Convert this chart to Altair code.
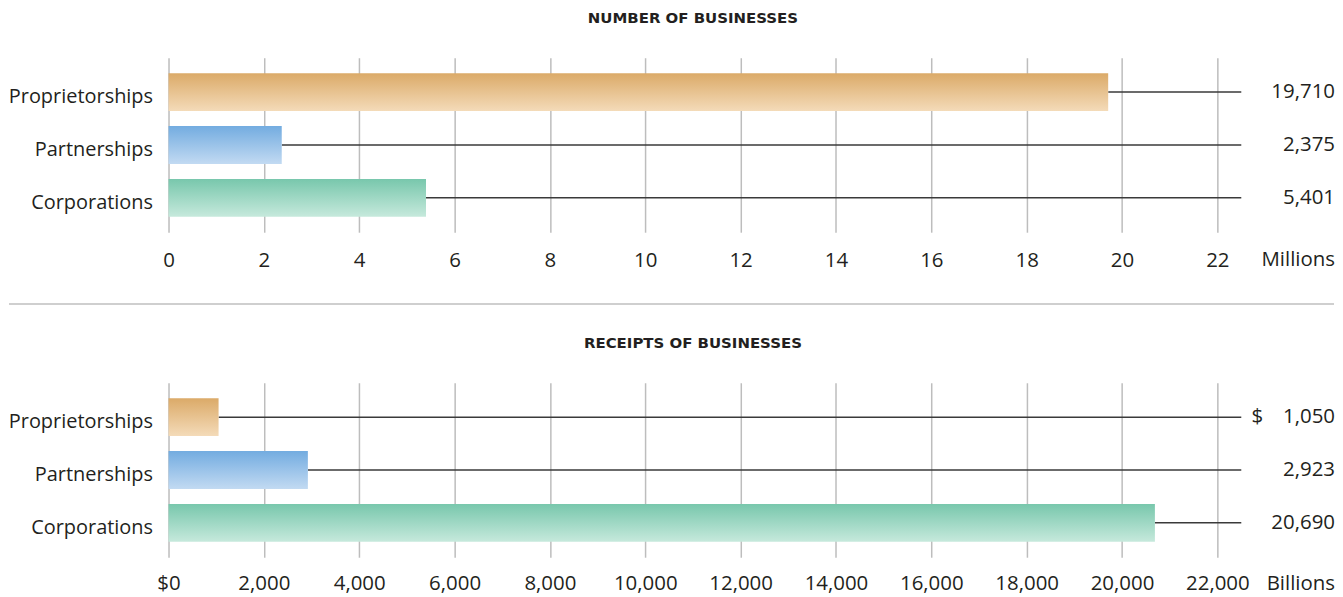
import altair as alt
import pandas as pd

FONT = "Open Sans"
TITLE_FONT = "DejaVu Sans"
TEXT_COLOR = "#231f20"

categories = ["Proprietorships", "Partnerships", "Corporations"]
number_millions = [19.710, 2.375, 5.401]
number_labels = ["19,710", "2,375", "5,401"]
receipts_billions = [1050, 2923, 20690]
receipts_labels = ["1,050", "2,923", "20,690"]
number_ticks = [0, 2, 4, 6, 8, 10, 12, 14, 16, 18, 20, 22]
receipts_ticks = [0, 2000, 4000, 6000, 8000, 10000, 12000, 14000, 16000, 18000, 20000, 22000]
grad_top = ["#DBAA68", "#73ACE0", "#78C7AC"]
grad_bottom = ["#F4DBB9", "#C2DAF2", "#C6E9DC"]

W = 1052
H = 175
FS = 20
NFS = 20.5


def panel(title, values, labels, ticks, unit, label_expr, label_pad, unit_dy,
          prefix=None, separator=False):
    df = pd.DataFrame({"cat": categories, "v": values, "lbl": labels})
    y_enc = alt.Y(
        "cat:N", sort=categories,
        scale=alt.Scale(paddingInner=0.283, paddingOuter=0.292),
        axis=alt.Axis(title=None, ticks=False, domain=False, labelFontSize=FS,
                      labelFont=FONT, labelColor=TEXT_COLOR, labelPadding=16,
                      labelOffset=5, minExtent=160, maxExtent=160),
    )
    x_enc = alt.X(
        "v:Q",
        scale=alt.Scale(domain=[0, ticks[-1]], nice=False, zero=True),
        axis=alt.Axis(title=None, values=ticks, grid=True, gridColor="#bdbdbd",
                      gridWidth=1.5, ticks=False, domain=False,
                      labelFontSize=NFS, labelFont=FONT, labelColor=TEXT_COLOR,
                      labelPadding=label_pad, labelExpr=label_expr,
                      labelFlush=False),
    )
    base = alt.Chart(df)
    rules = base.mark_rule(color="#3a3a3a", strokeWidth=1.5).encode(
        x=x_enc, x2=alt.value(1076), y=y_enc)
    layers = [rules]
    for i, c in enumerate(categories):
        grad = alt.Gradient(
            gradient="linear", x1=0, x2=0, y1=0, y2=1,
            stops=[alt.GradientStop(color=grad_top[i], offset=0),
                   alt.GradientStop(color=grad_bottom[i], offset=1)])
        layers.append(
            base.transform_filter(alt.datum.cat == c)
            .mark_bar(color=grad).encode(x=x_enc, y=y_enc))
    layers.append(
        base.mark_text(align="right", baseline="middle", fontSize=NFS, font=FONT,
                       color=TEXT_COLOR)
        .encode(x=alt.value(1170), y=y_enc, text="lbl:N"))
    if prefix is not None:
        layers.append(
            base.transform_filter(alt.datum.cat == categories[0])
            .mark_text(align="center", baseline="middle", fontSize=NFS, font=FONT,
                       color=TEXT_COLOR)
            .encode(x=alt.value(1092), y=y_enc, text=alt.value(prefix)))
    layers.append(
        alt.Chart(pd.DataFrame({"t": [unit]}))
        .mark_text(align="right", baseline="middle", fontSize=NFS, font=FONT,
                   color=TEXT_COLOR)
        .encode(x=alt.value(1170), y=alt.value(H + unit_dy), text="t:N"))
    if separator:
        layers.append(
            alt.Chart(pd.DataFrame({"a": [0]}))
            .mark_rule(color="#a0a0a0", strokeWidth=1.2)
            .encode(x=alt.value(-160), x2=alt.value(1169), y=alt.value(H + 72)))
    return alt.layer(*layers).properties(
        width=W, height=H,
        title=alt.TitleParams(title, fontSize=15, fontWeight="bold", font=TITLE_FONT,
                              color=TEXT_COLOR, offset=32, anchor="middle",
                              frame="group"),
    )


top = panel("NUMBER OF BUSINESSES", number_millions, number_labels, number_ticks,
            "Millions", "format(datum.value, ',')", 18, 28, separator=True)
bottom = panel("RECEIPTS OF BUSINESSES", receipts_billions, receipts_labels,
               receipts_ticks, "Billions",
               "datum.value == 0 ? '$0' : format(datum.value, ',')", 16, 27,
               prefix="$")

chart = alt.vconcat(top, bottom, spacing=31).properties(
    padding={"left": 0, "top": 2, "right": 0, "bottom": 0}
).configure_view(stroke=None)

chart.save("out.html", embed_options={"renderer": "svg", "actions": False})
